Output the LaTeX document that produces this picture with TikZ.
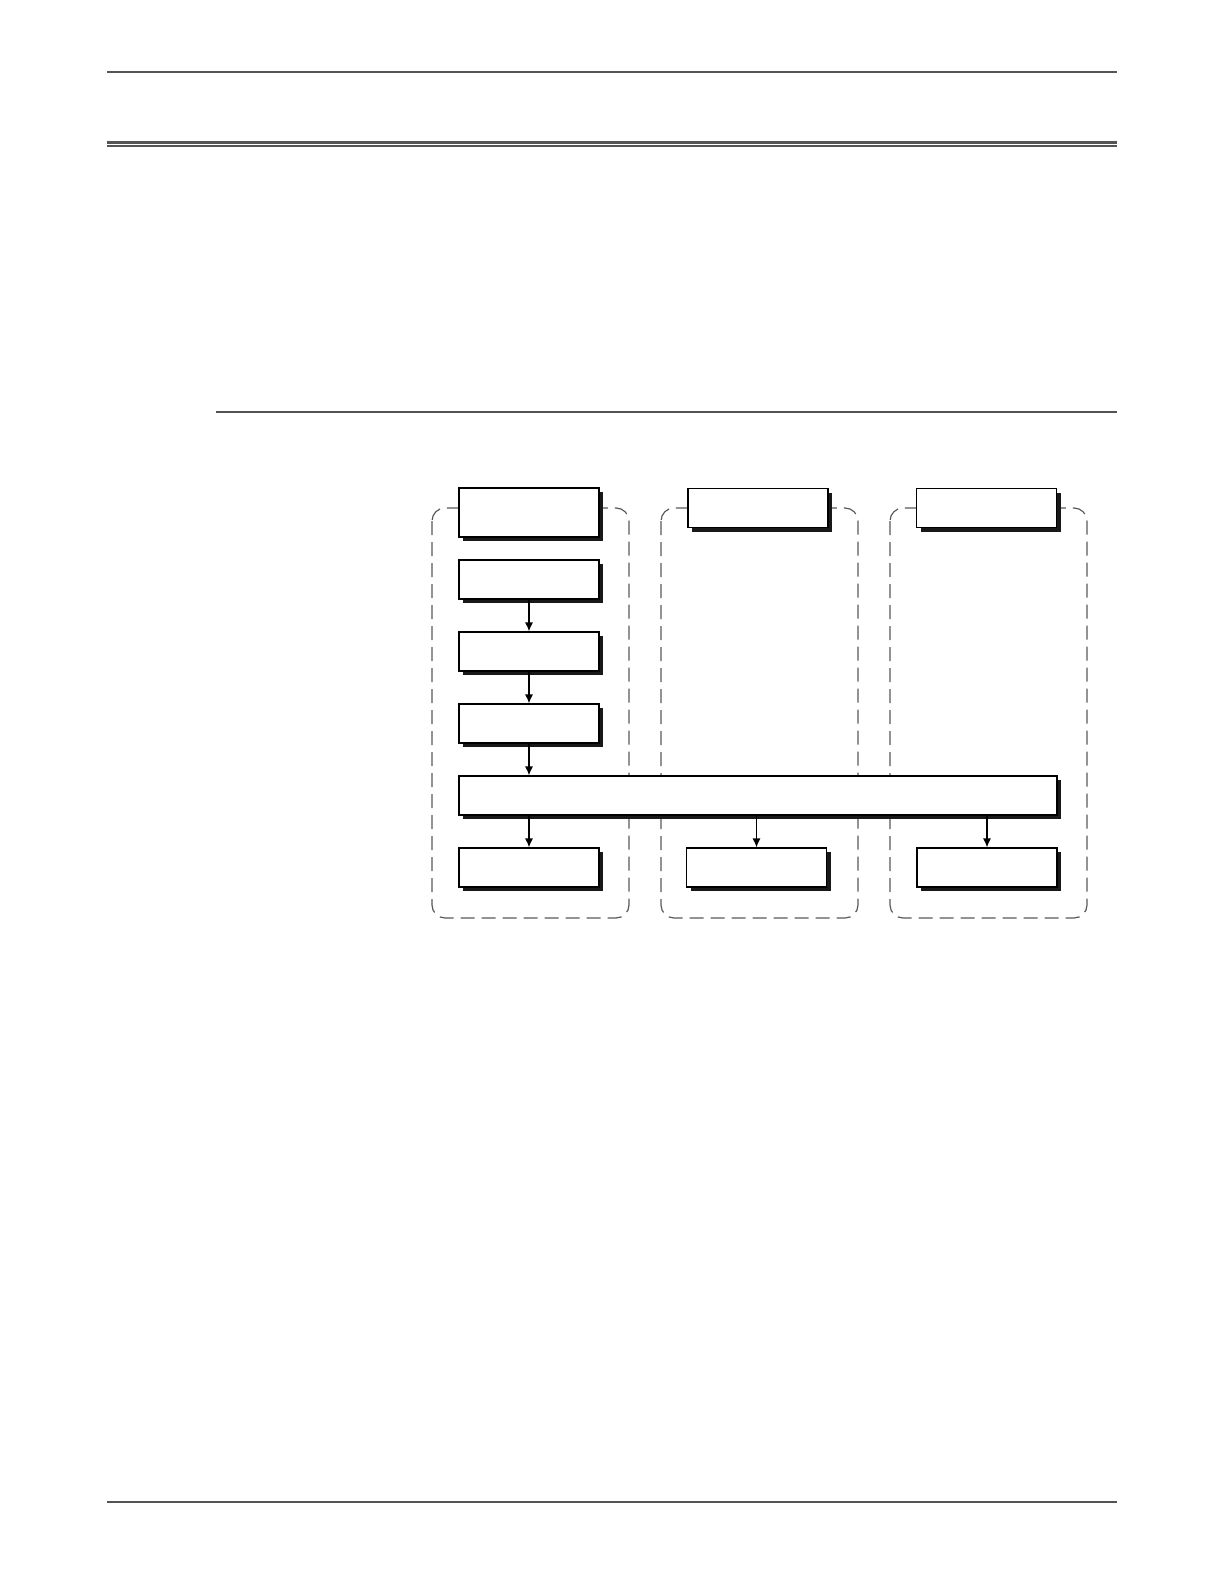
\documentclass[tikz,border=0pt]{standalone}
\usetikzlibrary{arrows.meta,shadows}
\begin{document}
\begin{tikzpicture}[
        x=0.5pt, y=-0.5pt,
        box/.style={draw, fill=white, line width=0.6pt, inner sep=0pt,
            minimum width=70pt, minimum height=19.5pt,
            drop shadow={shadow xshift=2pt, shadow yshift=-2pt, fill=black!90, opacity=1}},
        tallbox/.style={box, minimum height=24.5pt},
        group/.style={draw=black!65, line width=0.6pt, dash pattern=on 7pt off 3.5pt, rounded corners=6.5pt},
        rule/.style={draw=black!67, line width=1pt},
        >={Latex[length=4.5pt,width=4pt]}
    ]
        \useasboundingbox (0,0) rectangle (1224,1584);

        % Page rules
        \draw[rule] (107,72) -- (1117,72);
        \draw[rule, line width=1.5pt] (107,142) -- (1117,142);
        \draw[rule] (107,145.7) -- (1117,145.7);
        \draw[rule] (216,411.7) -- (1117,411.7);
        \draw[rule] (107,1502) -- (1117,1502);

        % Dashed groups
        \draw[group] (432,508) rectangle (629,918);
        \draw[group] (661,508) rectangle (858,918);
        \draw[group] (890,508) rectangle (1087,918);

        % Column heads
        \node[tallbox] (head1) at (529,512.5) {};
        \node[box] (head2) at (758,508) {};
        \node[box] (head3) at (986.5,508) {};

        % First column chain
        \node[box] (s1) at (529,579.5) {};
        \node[box] (s2) at (529,651.5) {};
        \node[box] (s3) at (529,723.5) {};

        % Shared bar
        \node[box, minimum width=299pt] (bar) at (758,795.5) {};

        % Outputs
        \node[box] (out1) at (529,867.5) {};
        \node[box] (out2) at (756.5,867.5) {};
        \node[box] (out3) at (987,867.5) {};

        % Arrows
        \draw[->, line width=0.6pt] (s1) -- (s2);
        \draw[->, line width=0.6pt] (s2) -- (s3);
        \draw[->, line width=0.6pt] (s3) -- (s3 |- bar.north);
        \draw[->, line width=0.6pt] (bar.south -| out1) -- (out1);
        \draw[->, line width=0.6pt] (bar.south -| out2) -- (out2);
        \draw[->, line width=0.6pt] (bar.south -| out3) -- (out3);
    \end{tikzpicture}
\end{document}
